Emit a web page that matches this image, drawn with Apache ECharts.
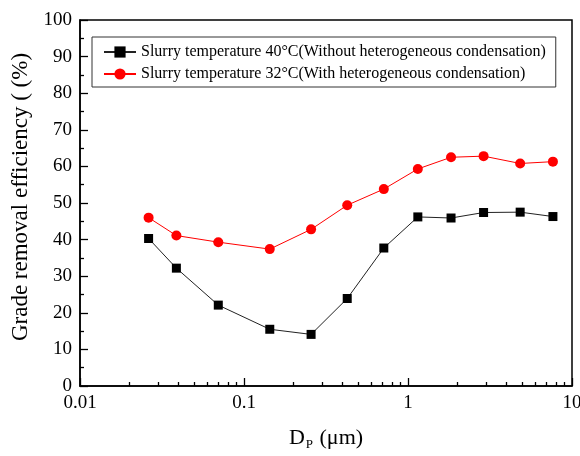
<!DOCTYPE html>
<html>
<head>
<meta charset="utf-8">
<script src="https://cdn.jsdelivr.net/npm/echarts@6/dist/echarts.min.js"></script>
<style>
  html, body { margin: 0; padding: 0; background: #fff; }
  #chart { width: 580px; height: 456px; }
</style>
</head>
<body>
<div id="chart"></div>
<script>
// particle diameter (um)
var dp = [0.0262, 0.0387, 0.0697, 0.1436, 0.2565, 0.426, 0.712, 1.148, 1.83, 2.89, 4.83, 7.65];
// efficiency (%)
var eff40 = [40.3, 32.2, 22.1, 15.5, 14.1, 23.9, 37.7, 46.2, 45.9, 47.4, 47.5, 46.3];
var eff32 = [46.0, 41.1, 39.3, 37.4, 42.8, 49.4, 53.8, 59.3, 62.5, 62.8, 60.8, 61.3];
// minor ticks on the log axis
var minorX = [0.02, 0.03, 0.04, 0.05, 0.06, 0.07, 0.08, 0.09,
              0.2, 0.3, 0.4, 0.5, 0.6, 0.7, 0.8, 0.9,
              2, 3, 4, 5, 6, 7, 8, 9];
var name40 = 'Slurry temperature 40°C(Without heterogeneous condensation)';
var name32 = 'Slurry temperature 32°C(With heterogeneous condensation)';

function pairs(xs, ys) {
    var out = [];
    for (var i = 0; i < xs.length; i++) out.push([xs[i], ys[i]]);
    return out;
}

var serif = '"Liberation Serif", "Times New Roman", serif';
var chart = echarts.init(document.getElementById('chart'));

var option = {
    animation: false,
    backgroundColor: '#fff',
    grid: {
        left: 80, right: 8, top: 20, bottom: 70,
        outerBoundsMode: 'none',
        show: true, z: -1,
        backgroundColor: 'rgba(0,0,0,0)',
        borderColor: '#000', borderWidth: 1.5
    },
    legend: {
        left: 92, top: 37,
        orient: 'vertical',
        itemWidth: 32, itemHeight: 14, itemGap: 6,
        padding: [7, 10, 5, 11],
        borderColor: '#333', borderWidth: 1,
        textStyle: { fontFamily: serif, fontSize: 16, color: '#000' },
        data: [name40, name32]
    },
    xAxis: [{
        type: 'log', logBase: 10, min: 0.01, max: 10,
        axisLine: { lineStyle: { color: '#000', width: 1.5 } },
        axisTick: { show: true, inside: true, length: 8, lineStyle: { color: '#000', width: 1.3 } },
        axisLabel: { fontFamily: serif, fontSize: 19, color: '#000', margin: 8,
            formatter: function (v) { return String(v); } },
        splitLine: { show: false },
        name: '{a|D}{s|P}{a| (μm)}',
        nameLocation: 'middle', nameGap: 40,
        nameTextStyle: {
            rich: {
                a: { fontFamily: serif, fontSize: 22, color: '#000' },
                s: { fontFamily: serif, fontSize: 13, color: '#000', verticalAlign: 'bottom', padding: [12, 1, 0, 1] }
            }
        }
    }, {
        type: 'log', logBase: 10, min: 0.01, max: 10,
        position: 'bottom',
        axisLine: { show: false },
        axisTick: { show: true, inside: true, length: 4, customValues: minorX, lineStyle: { color: '#000', width: 1.3 } },
        axisLabel: { show: false },
        splitLine: { show: false }
    }],
    yAxis: {
        type: 'value', min: 0, max: 100, interval: 10,
        axisLine: { show: true, lineStyle: { color: '#000', width: 1.5 } },
        axisTick: { show: true, inside: true, length: 8, lineStyle: { color: '#000', width: 1.3 } },
        minorTick: { show: true, splitNumber: 2, length: 4, lineStyle: { color: '#000', width: 1.3 } },
        axisLabel: { fontFamily: serif, fontSize: 19, color: '#000', margin: 8 },
        splitLine: { show: false },
        name: 'Grade removal efficiency ( (%)',
        nameLocation: 'middle', nameGap: 42,
        nameTextStyle: { fontFamily: serif, fontSize: 23, color: '#000', padding: [0, 0, 0, 12] }
    },
    series: [{
        name: name40,
        type: 'line',
        data: pairs(dp, eff40),
        symbol: 'rect', symbolSize: 9,
        itemStyle: { color: '#000' },
        lineStyle: { color: '#222', width: 1 }
    }, {
        name: name32,
        type: 'line',
        data: pairs(dp, eff32),
        symbol: 'circle', symbolSize: 10,
        itemStyle: { color: '#ff0000' },
        lineStyle: { color: '#ff0000', width: 1 }
    }]
};
chart.setOption(option);
</script>
</body>
</html>
